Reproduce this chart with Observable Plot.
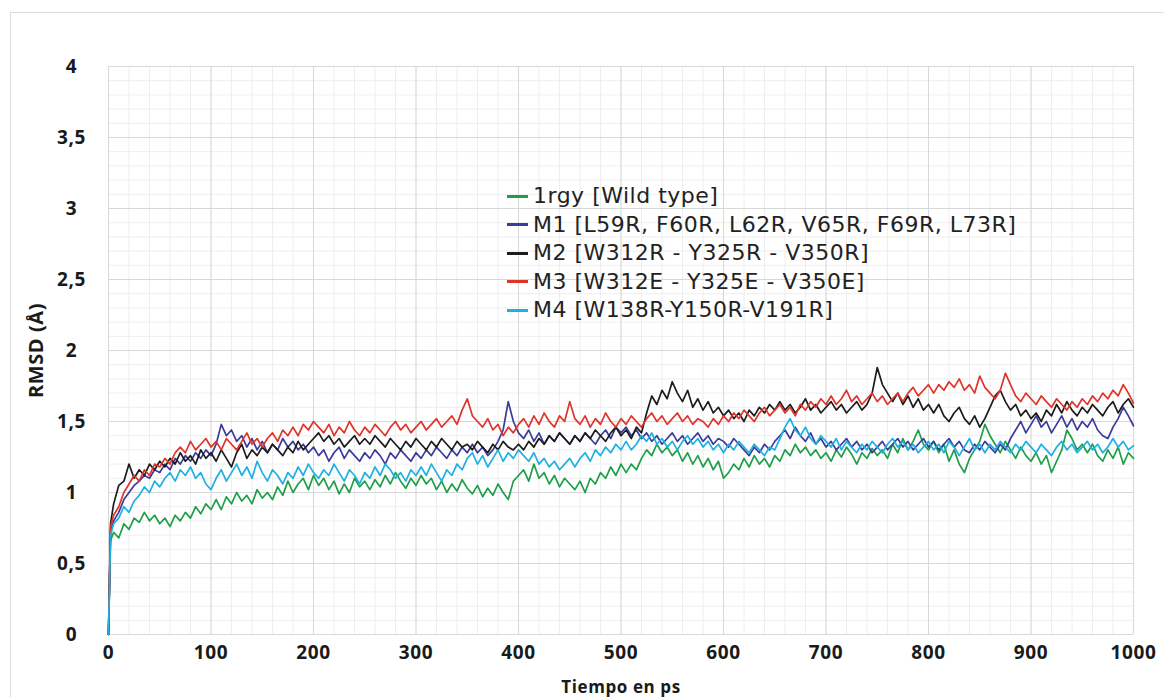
<!DOCTYPE html>
<html><head><meta charset="utf-8">
<script src="https://cdn.jsdelivr.net/npm/d3@7"></script>
<script src="https://cdn.jsdelivr.net/npm/@observablehq/plot@0.6"></script>
<style>
body{margin:0;background:#fff;}
#wrap{position:relative;width:1164px;height:697px;overflow:hidden;background:#fff;}
#border{position:absolute;left:10px;top:12px;width:1160px;height:700px;border:1px solid #dcdcdc;}
#chart{position:absolute;left:0;top:0;}
#legend{position:absolute;left:507px;top:182px;font-family:'DejaVu Sans',sans-serif;font-size:22px;letter-spacing:0.5px;color:#222;line-height:28.5px;}
.row{display:flex;align-items:center;height:28.5px;white-space:nowrap;}
.sw{width:21px;height:3px;margin-right:5px;flex:none;}
</style></head>
<body>
<div id="wrap"><div id="border"></div><div id="chart"></div><div id="legend"></div></div>
<script>
// sampling times (ps)
const times = [0, 2, ...d3.range(5, 1001, 5)];

const seriesNames = ["1rgy [Wild type]","M1 [L59R, F60R, L62R, V65R, F69R, L73R]","M2 [W312R - Y325R - V350R]","M3 [W312E - Y325E - V350E]","M4 [W138R-Y150R-V191R]"];
const seriesColors = ["#1f9e4a","#3b3b9a","#1c1c1c","#e0332b","#1fb0e2"];

const wild = [0,0.66,
0.72,0.68,0.78,0.74,0.82,0.79,0.86,0.80,0.84,0.78,
0.82,0.76,0.84,0.80,0.86,0.82,0.90,0.85,0.92,0.88,
0.95,0.88,0.97,0.92,1.00,0.94,0.98,0.92,1.02,0.96,
1.00,0.95,1.04,0.98,1.08,1.00,1.06,1.10,1.02,1.12,
1.05,1.10,1.02,1.08,0.99,1.06,1.00,1.10,1.04,1.08,
1.02,1.09,1.04,1.12,1.06,1.14,1.08,1.03,1.10,1.05,
1.12,1.06,1.10,1.02,1.08,1.00,1.06,1.01,1.09,1.03,
0.99,1.05,0.97,1.03,0.98,1.06,1.00,0.95,1.08,1.12,
1.16,1.08,1.20,1.10,1.14,1.06,1.12,1.04,1.10,1.06,
1.02,1.08,1.00,1.10,1.06,1.14,1.10,1.18,1.12,1.20,
1.14,1.20,1.16,1.24,1.30,1.26,1.34,1.28,1.32,1.26,
1.30,1.22,1.28,1.20,1.26,1.18,1.24,1.16,1.22,1.10,
1.14,1.20,1.16,1.24,1.18,1.26,1.20,1.24,1.18,1.26,
1.22,1.30,1.26,1.34,1.28,1.32,1.26,1.30,1.24,1.28,
1.22,1.30,1.25,1.32,1.27,1.20,1.28,1.24,1.31,1.26,
1.30,1.24,1.34,1.28,1.38,1.30,1.36,1.44,1.34,1.30,
1.36,1.28,1.34,1.22,1.30,1.20,1.14,1.24,1.30,1.36,
1.48,1.40,1.34,1.28,1.36,1.30,1.24,1.32,1.26,1.22,
1.28,1.20,1.26,1.14,1.22,1.30,1.44,1.38,1.30,1.34,
1.28,1.34,1.26,1.22,1.30,1.24,1.32,1.20,1.28,1.24];

const m1 = [0,0.72,
0.80,0.86,0.95,1.00,1.05,1.08,1.12,1.10,1.16,1.14,
1.20,1.16,1.24,1.20,1.26,1.22,1.28,1.24,1.30,1.26,
1.34,1.48,1.40,1.44,1.36,1.40,1.32,1.38,1.30,1.36,
1.28,1.34,1.30,1.38,1.32,1.36,1.30,1.34,1.28,1.32,
1.26,1.30,1.22,1.28,1.32,1.24,1.30,1.26,1.22,1.28,
1.24,1.30,1.26,1.20,1.28,1.24,1.30,1.26,1.22,1.28,
1.24,1.30,1.26,1.32,1.28,1.24,1.30,1.26,1.32,1.28,
1.34,1.28,1.32,1.26,1.30,1.36,1.44,1.64,1.50,1.42,
1.38,1.44,1.36,1.42,1.34,1.40,1.36,1.42,1.38,1.34,
1.40,1.36,1.42,1.38,1.34,1.40,1.44,1.38,1.46,1.42,
1.46,1.40,1.44,1.38,1.42,1.36,1.40,1.34,1.38,1.42,
1.36,1.40,1.34,1.38,1.42,1.36,1.40,1.34,1.38,1.36,
1.32,1.38,1.34,1.30,1.26,1.32,1.28,1.34,1.30,1.36,
1.40,1.44,1.38,1.46,1.40,1.36,1.42,1.34,1.38,1.32,
1.36,1.30,1.34,1.38,1.32,1.36,1.30,1.34,1.28,1.32,
1.36,1.30,1.34,1.38,1.32,1.36,1.30,1.34,1.38,1.32,
1.36,1.30,1.34,1.38,1.32,1.36,1.30,1.28,1.34,1.30,
1.36,1.32,1.28,1.34,1.30,1.38,1.44,1.50,1.42,1.48,
1.54,1.46,1.50,1.42,1.48,1.54,1.46,1.52,1.44,1.50,
1.46,1.52,1.44,1.40,1.38,1.46,1.52,1.60,1.54,1.47];

const m2 = [0,0.78,
0.92,1.05,1.08,1.20,1.10,1.16,1.12,1.20,1.16,1.22,
1.18,1.24,1.20,1.28,1.22,1.26,1.20,1.30,1.24,1.28,
1.22,1.30,1.24,1.18,1.28,1.34,1.24,1.30,1.26,1.32,
1.28,1.34,1.30,1.26,1.32,1.28,1.36,1.30,1.34,1.38,
1.42,1.36,1.40,1.34,1.38,1.32,1.36,1.40,1.34,1.38,
1.34,1.40,1.36,1.32,1.38,1.34,1.30,1.36,1.32,1.38,
1.34,1.30,1.36,1.32,1.38,1.34,1.30,1.36,1.32,1.34,
1.30,1.36,1.32,1.28,1.34,1.30,1.36,1.32,1.30,1.34,
1.30,1.36,1.32,1.38,1.34,1.40,1.36,1.42,1.38,1.34,
1.40,1.36,1.42,1.38,1.44,1.40,1.36,1.42,1.46,1.40,
1.44,1.38,1.46,1.42,1.56,1.68,1.62,1.72,1.66,1.78,
1.70,1.64,1.72,1.60,1.66,1.58,1.64,1.56,1.60,1.54,
1.58,1.52,1.56,1.50,1.58,1.54,1.60,1.56,1.62,1.58,
1.64,1.58,1.62,1.56,1.60,1.66,1.58,1.62,1.56,1.60,
1.64,1.58,1.62,1.56,1.60,1.64,1.58,1.62,1.70,1.88,
1.76,1.70,1.64,1.70,1.62,1.68,1.60,1.66,1.58,1.62,
1.56,1.62,1.54,1.50,1.56,1.60,1.52,1.48,1.54,1.46,
1.52,1.60,1.68,1.72,1.64,1.58,1.62,1.54,1.58,1.52,
1.56,1.50,1.58,1.54,1.62,1.56,1.64,1.58,1.54,1.60,
1.56,1.62,1.58,1.54,1.60,1.64,1.56,1.62,1.66,1.60];

const m3 = [0,0.76,
0.84,0.90,1.00,1.06,1.12,1.08,1.16,1.12,1.20,1.18,
1.24,1.20,1.28,1.32,1.28,1.36,1.30,1.34,1.38,1.32,
1.36,1.30,1.38,1.34,1.30,1.36,1.42,1.34,1.38,1.32,
1.38,1.42,1.36,1.44,1.40,1.46,1.40,1.48,1.44,1.50,
1.46,1.42,1.48,1.40,1.46,1.42,1.50,1.44,1.40,1.46,
1.42,1.48,1.44,1.40,1.46,1.50,1.44,1.48,1.42,1.46,
1.50,1.44,1.48,1.52,1.46,1.50,1.54,1.48,1.58,1.66,
1.54,1.50,1.46,1.52,1.44,1.48,1.40,1.46,1.42,1.48,
1.52,1.46,1.54,1.48,1.56,1.50,1.46,1.54,1.50,1.64,
1.52,1.48,1.54,1.46,1.52,1.48,1.56,1.50,1.46,1.52,
1.48,1.54,1.50,1.46,1.52,1.56,1.50,1.54,1.48,1.52,
1.56,1.50,1.54,1.48,1.52,1.50,1.46,1.52,1.48,1.54,
1.50,1.56,1.52,1.58,1.54,1.50,1.56,1.60,1.54,1.58,
1.62,1.56,1.60,1.54,1.62,1.58,1.64,1.60,1.66,1.62,
1.68,1.62,1.66,1.72,1.64,1.68,1.62,1.66,1.70,1.64,
1.68,1.62,1.66,1.70,1.64,1.70,1.74,1.68,1.72,1.76,
1.70,1.76,1.72,1.78,1.74,1.80,1.72,1.76,1.70,1.82,
1.74,1.70,1.66,1.72,1.84,1.76,1.68,1.64,1.70,1.66,
1.62,1.68,1.64,1.60,1.66,1.62,1.58,1.64,1.60,1.66,
1.62,1.68,1.64,1.70,1.66,1.72,1.68,1.76,1.70,1.63];

const m4 = [0,0.70,
0.78,0.82,0.90,0.86,0.94,0.98,1.04,1.00,1.08,1.04,
1.10,1.14,1.08,1.16,1.12,1.18,1.10,1.14,1.06,1.02,
1.10,1.16,1.08,1.14,1.20,1.12,1.18,1.10,1.22,1.14,
1.08,1.16,1.12,1.06,1.14,1.10,1.18,1.12,1.20,1.14,
1.10,1.16,1.12,1.20,1.14,1.08,1.16,1.12,1.06,1.14,
1.10,1.18,1.12,1.20,1.16,1.10,1.14,1.08,1.16,1.12,
1.18,1.12,1.20,1.14,1.08,1.16,1.12,1.20,1.16,1.24,
1.28,1.20,1.26,1.18,1.24,1.30,1.22,1.28,1.24,1.30,
1.26,1.22,1.28,1.20,1.24,1.18,1.22,1.16,1.20,1.24,
1.18,1.24,1.28,1.22,1.30,1.26,1.32,1.28,1.34,1.30,
1.36,1.30,1.34,1.40,1.36,1.42,1.34,1.38,1.32,1.36,
1.30,1.36,1.40,1.34,1.38,1.32,1.36,1.30,1.34,1.28,
1.34,1.30,1.36,1.32,1.28,1.34,1.30,1.26,1.32,1.30,
1.38,1.46,1.52,1.44,1.40,1.46,1.38,1.34,1.40,1.36,
1.32,1.38,1.30,1.36,1.32,1.28,1.34,1.30,1.36,1.32,
1.28,1.34,1.38,1.32,1.36,1.30,1.34,1.28,1.32,1.36,
1.30,1.34,1.28,1.36,1.32,1.26,1.32,1.38,1.30,1.34,
1.28,1.34,1.30,1.36,1.32,1.28,1.34,1.30,1.36,1.32,
1.28,1.34,1.30,1.26,1.32,1.36,1.30,1.34,1.28,1.32,
1.36,1.30,1.34,1.28,1.32,1.38,1.32,1.36,1.30,1.33];

const yMajorTicks = [0,0.5,1,1.5,2,2.5,3,3.5,4];
const yMinorTicks = d3.range(0, 4.0001, 0.1);
const xMajorTicks = [0,100,200,300,400,500,600,700,800,900,1000];
const xMinorTicks = d3.range(0, 1001, 20);
const xTitle = "Tiempo en ps";
const yTitle = "RMSD (Å)";

const allSeries = [wild, m1, m2, m3, m4];
const rows = allSeries.map((vals, i) => times.map((t, j) => ({t, v: vals[j], s: seriesNames[i]})));

const font = "'Open Sans', sans-serif";
const chart = Plot.plot({
  width: 1164, height: 697,
  marginLeft: 108, marginRight: 31, marginTop: 66, marginBottom: 63,
  x: {domain: [0, 1000]},
  y: {domain: [0, 4]},
  style: {fontFamily: font, fontSize: "19px", fontWeight: 700, color: "#1a1a1a", background: "transparent", overflow: "visible", letterSpacing: "0.6px"},
  marks: [
    Plot.ruleY(yMinorTicks, {stroke: "#eeeeee", strokeWidth: 1}),
    Plot.ruleX(xMinorTicks, {stroke: "#eeeeee", strokeWidth: 1}),
    Plot.ruleY(yMajorTicks, {stroke: "#d8d8d8", strokeWidth: 1}),
    Plot.ruleX(xMajorTicks, {stroke: "#d8d8d8", strokeWidth: 1}),
    Plot.axisY(yMajorTicks, {tickSize: 0, tickPadding: 37, textAnchor: "middle", tickFormat: d => String(d).replace(".", ","), label: null}),
    Plot.axisX(xMajorTicks, {tickSize: 0, tickPadding: 11, tickFormat: d => String(d), label: null}),
    Plot.text([xTitle], {frameAnchor: "bottom", textAnchor: "middle", lineAnchor: "middle", dy: 53, fontSize: 17, fontWeight: 700}),
    Plot.text([yTitle], {frameAnchor: "left", textAnchor: "middle", lineAnchor: "middle", dx: -72, rotate: -90, fontSize: 20, fontWeight: 700}),
    ...rows.map((r, i) => Plot.line(r, {x: "t", y: "v", stroke: seriesColors[i], strokeWidth: 1.7, curve: "linear"}))
  ]
});
document.getElementById("chart").appendChild(chart);

const legend = document.getElementById("legend");
seriesNames.forEach((n, i) => {
  const row = document.createElement("div");
  row.className = "row";
  const sw = document.createElement("span");
  sw.className = "sw";
  sw.style.background = seriesColors[i];
  const tx = document.createElement("span");
  tx.textContent = n;
  row.appendChild(sw); row.appendChild(tx);
  legend.appendChild(row);
});
</script>
</body></html>
